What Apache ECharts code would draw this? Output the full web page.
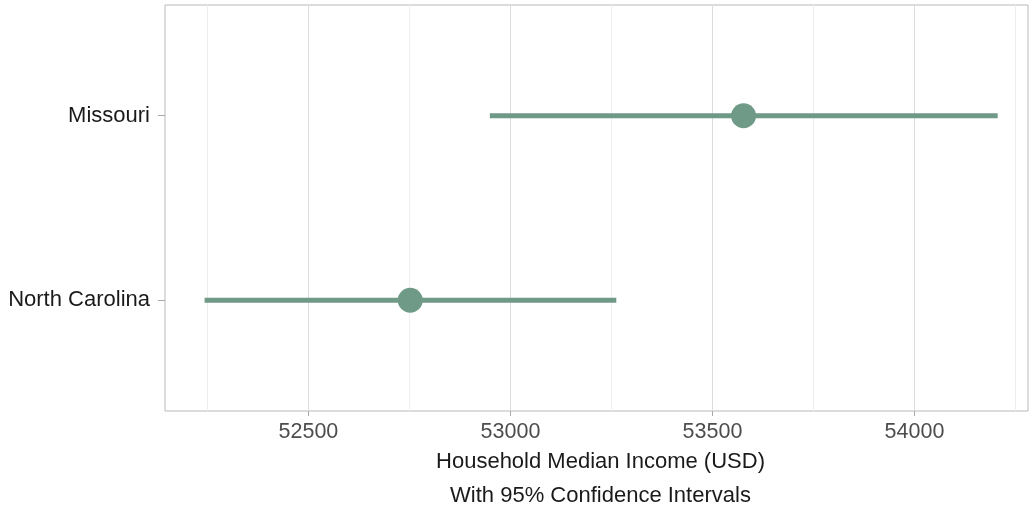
<!DOCTYPE html>
<html>
<head>
<meta charset="utf-8">
<script src="https://cdn.jsdelivr.net/npm/echarts@6/dist/echarts.min.js"></script>
<style>
  html, body { margin: 0; padding: 0; background: #ffffff; }
  #chart { width: 1029px; height: 508px; }
</style>
</head>
<body>
<div id="chart"></div>
<script>
// States, bottom to top
const states = ['North Carolina', 'Missouri'];
// Household median income estimates and 95% confidence bounds (USD)
const medianIncome = [52752, 53577];
const lowerBound = [52243, 52949];
const upperBound = [53262, 54206];
// Axis ticks
const majorTicks = [52500, 53000, 53500, 54000];
const minorTicks = [52250, 52750, 53250, 53750, 54250];

const pointColor = '#6f9a88';
const fontFamily = '"Liberation Sans", Arial, sans-serif';

const yPos = states.map((_, i) => i + 1);

const gridLines = []
  .concat(minorTicks.map(v => ({ xAxis: v, lineStyle: { color: '#eeeeee', width: 1, type: 'solid' } })))
  .concat(majorTicks.map(v => ({ xAxis: v, lineStyle: { color: '#dcdcdc', width: 1, type: 'solid' } })));

const chart = echarts.init(document.getElementById('chart'), null, { renderer: 'canvas' });

chart.setOption({
  animation: false,
  backgroundColor: '#ffffff',
  grid: {
    left: 165, right: 1, top: 5, bottom: 97,
    outerBoundsMode: 'none',
    containLabel: false,
    show: true, borderColor: '#b8b8b8', borderWidth: 1, backgroundColor: 'transparent'
  },
  xAxis: {
    type: 'value',
    min: 52145,
    max: 54281,
    axisLine: { show: false },
    splitLine: { show: false },
    axisTick: { show: true, customValues: majorTicks, length: 5, lineStyle: { color: '#a8a8a8' } },
    axisLabel: {
      customValues: majorTicks,
      margin: 10,
      color: '#4d4d4d',
      fontSize: 21.5,
      fontFamily: fontFamily,
      formatter: v => String(v)
    },
    name: 'Household Median Income (USD)\nWith 95% Confidence Intervals',
    nameLocation: 'middle',
    nameGap: 34,
    nameMoveOverlap: false,
    nameTextStyle: { color: '#1a1a1a', fontSize: 22, fontFamily: fontFamily, lineHeight: 34, padding: [0, 0, 0, 8] }
  },
  yAxis: {
    type: 'value',
    min: 0.4,
    max: 2.6,
    axisLine: { show: false },
    splitLine: { show: false },
    axisTick: { show: true, customValues: yPos, length: 7, lineStyle: { color: '#a8a8a8' } },
    axisLabel: {
      customValues: yPos,
      margin: 15,
      color: '#1a1a1a',
      fontSize: 22,
      fontFamily: fontFamily,
      formatter: v => states[Math.round(v) - 1] || ''
    }
  },
  series: [
    {
      type: 'scatter',
      data: [],
      silent: true,
      z: 1,
      markLine: {
        z: 1,
        silent: true,
        symbol: ['none', 'none'],
        label: { show: false },
        animation: false,
        data: gridLines
      }
    },
    {
      type: 'custom',
      z: 10,
      data: states.map((_, i) => [lowerBound[i], upperBound[i], yPos[i]]),
      renderItem: function (params, api) {
        const a = api.coord([api.value(0), api.value(2)]);
        const b = api.coord([api.value(1), api.value(2)]);
        return {
          type: 'line',
          shape: { x1: a[0], y1: a[1], x2: b[0], y2: b[1] },
          style: { stroke: pointColor, lineWidth: 5 }
        };
      }
    },
    {
      type: 'scatter',
      z: 11,
      symbol: 'circle',
      symbolSize: 25,
      itemStyle: { color: pointColor, opacity: 1 },
      data: states.map((_, i) => [medianIncome[i], yPos[i]])
    }
  ]
});
</script>
</body>
</html>
